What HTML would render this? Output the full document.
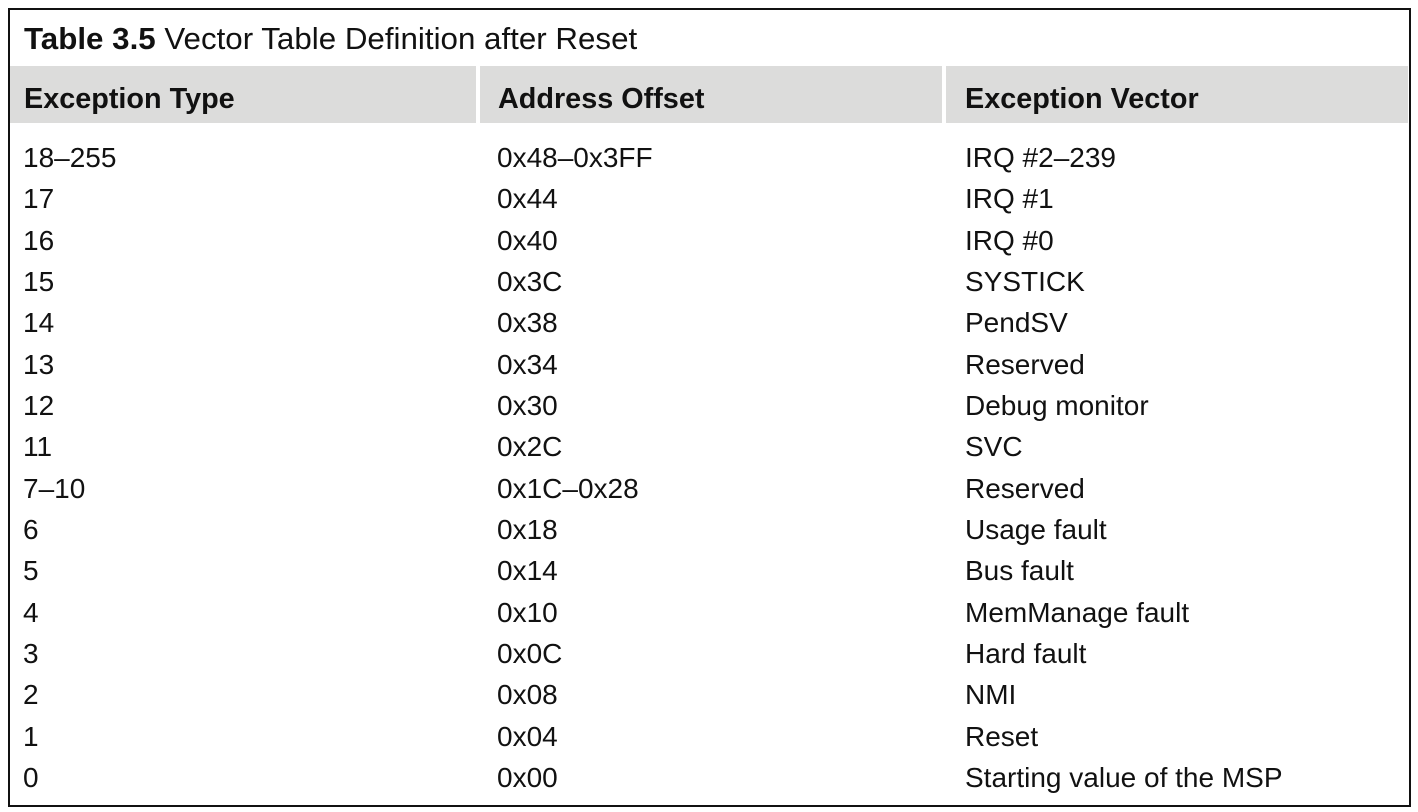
<!DOCTYPE html>
<html><head><style>
body{margin:0;width:1418px;height:812px;background:#fff;position:relative;font-family:"Liberation Sans",sans-serif;color:#111;}
.box{position:absolute;left:8px;top:8px;width:1399px;height:795px;border:2px solid #111;}
.title{position:absolute;left:24px;top:21px;font-size:31px;line-height:36px;white-space:nowrap;transform-origin:0 50%;transform:scaleX(1.01);}
.title b{font-weight:bold;}
.hd{position:absolute;top:66px;height:57px;background:#dcdcdb;}
.ht{position:absolute;top:81px;font-weight:bold;font-size:28.8px;line-height:36px;white-space:nowrap;}
.c{position:absolute;font-size:28px;line-height:30px;white-space:nowrap;}
</style></head><body>
<div class="box"></div>
<div class="title"><b>Table 3.5</b> Vector Table Definition after Reset</div>
<div class="hd" style="left:10px;width:466px"></div>
<div class="hd" style="left:480px;width:462px"></div>
<div class="hd" style="left:946px;width:462px"></div>
<div class="ht" style="left:24px">Exception Type</div>
<div class="ht" style="left:498px">Address Offset</div>
<div class="ht" style="left:965px">Exception Vector</div>
<div id="rows"></div>
<script>
var d=[["18–255","0x48–0x3FF","IRQ #2–239"],["17","0x44","IRQ #1"],["16","0x40","IRQ #0"],["15","0x3C","SYSTICK"],["14","0x38","PendSV"],["13","0x34","Reserved"],["12","0x30","Debug monitor"],["11","0x2C","SVC"],["7–10","0x1C–0x28","Reserved"],["6","0x18","Usage fault"],["5","0x14","Bus fault"],["4","0x10","MemManage fault"],["3","0x0C","Hard fault"],["2","0x08","NMI"],["1","0x04","Reset"],["0","0x00","Starting value of the MSP"]];
var x=[23,497,965],h="";
d.forEach(function(r,i){var y=158+i*41.33-15;r.forEach(function(t,j){h+='<div class="c" style="left:'+x[j]+'px;top:'+y+'px">'+t+'</div>';});});
document.getElementById('rows').innerHTML=h;
</script>
</body></html>
